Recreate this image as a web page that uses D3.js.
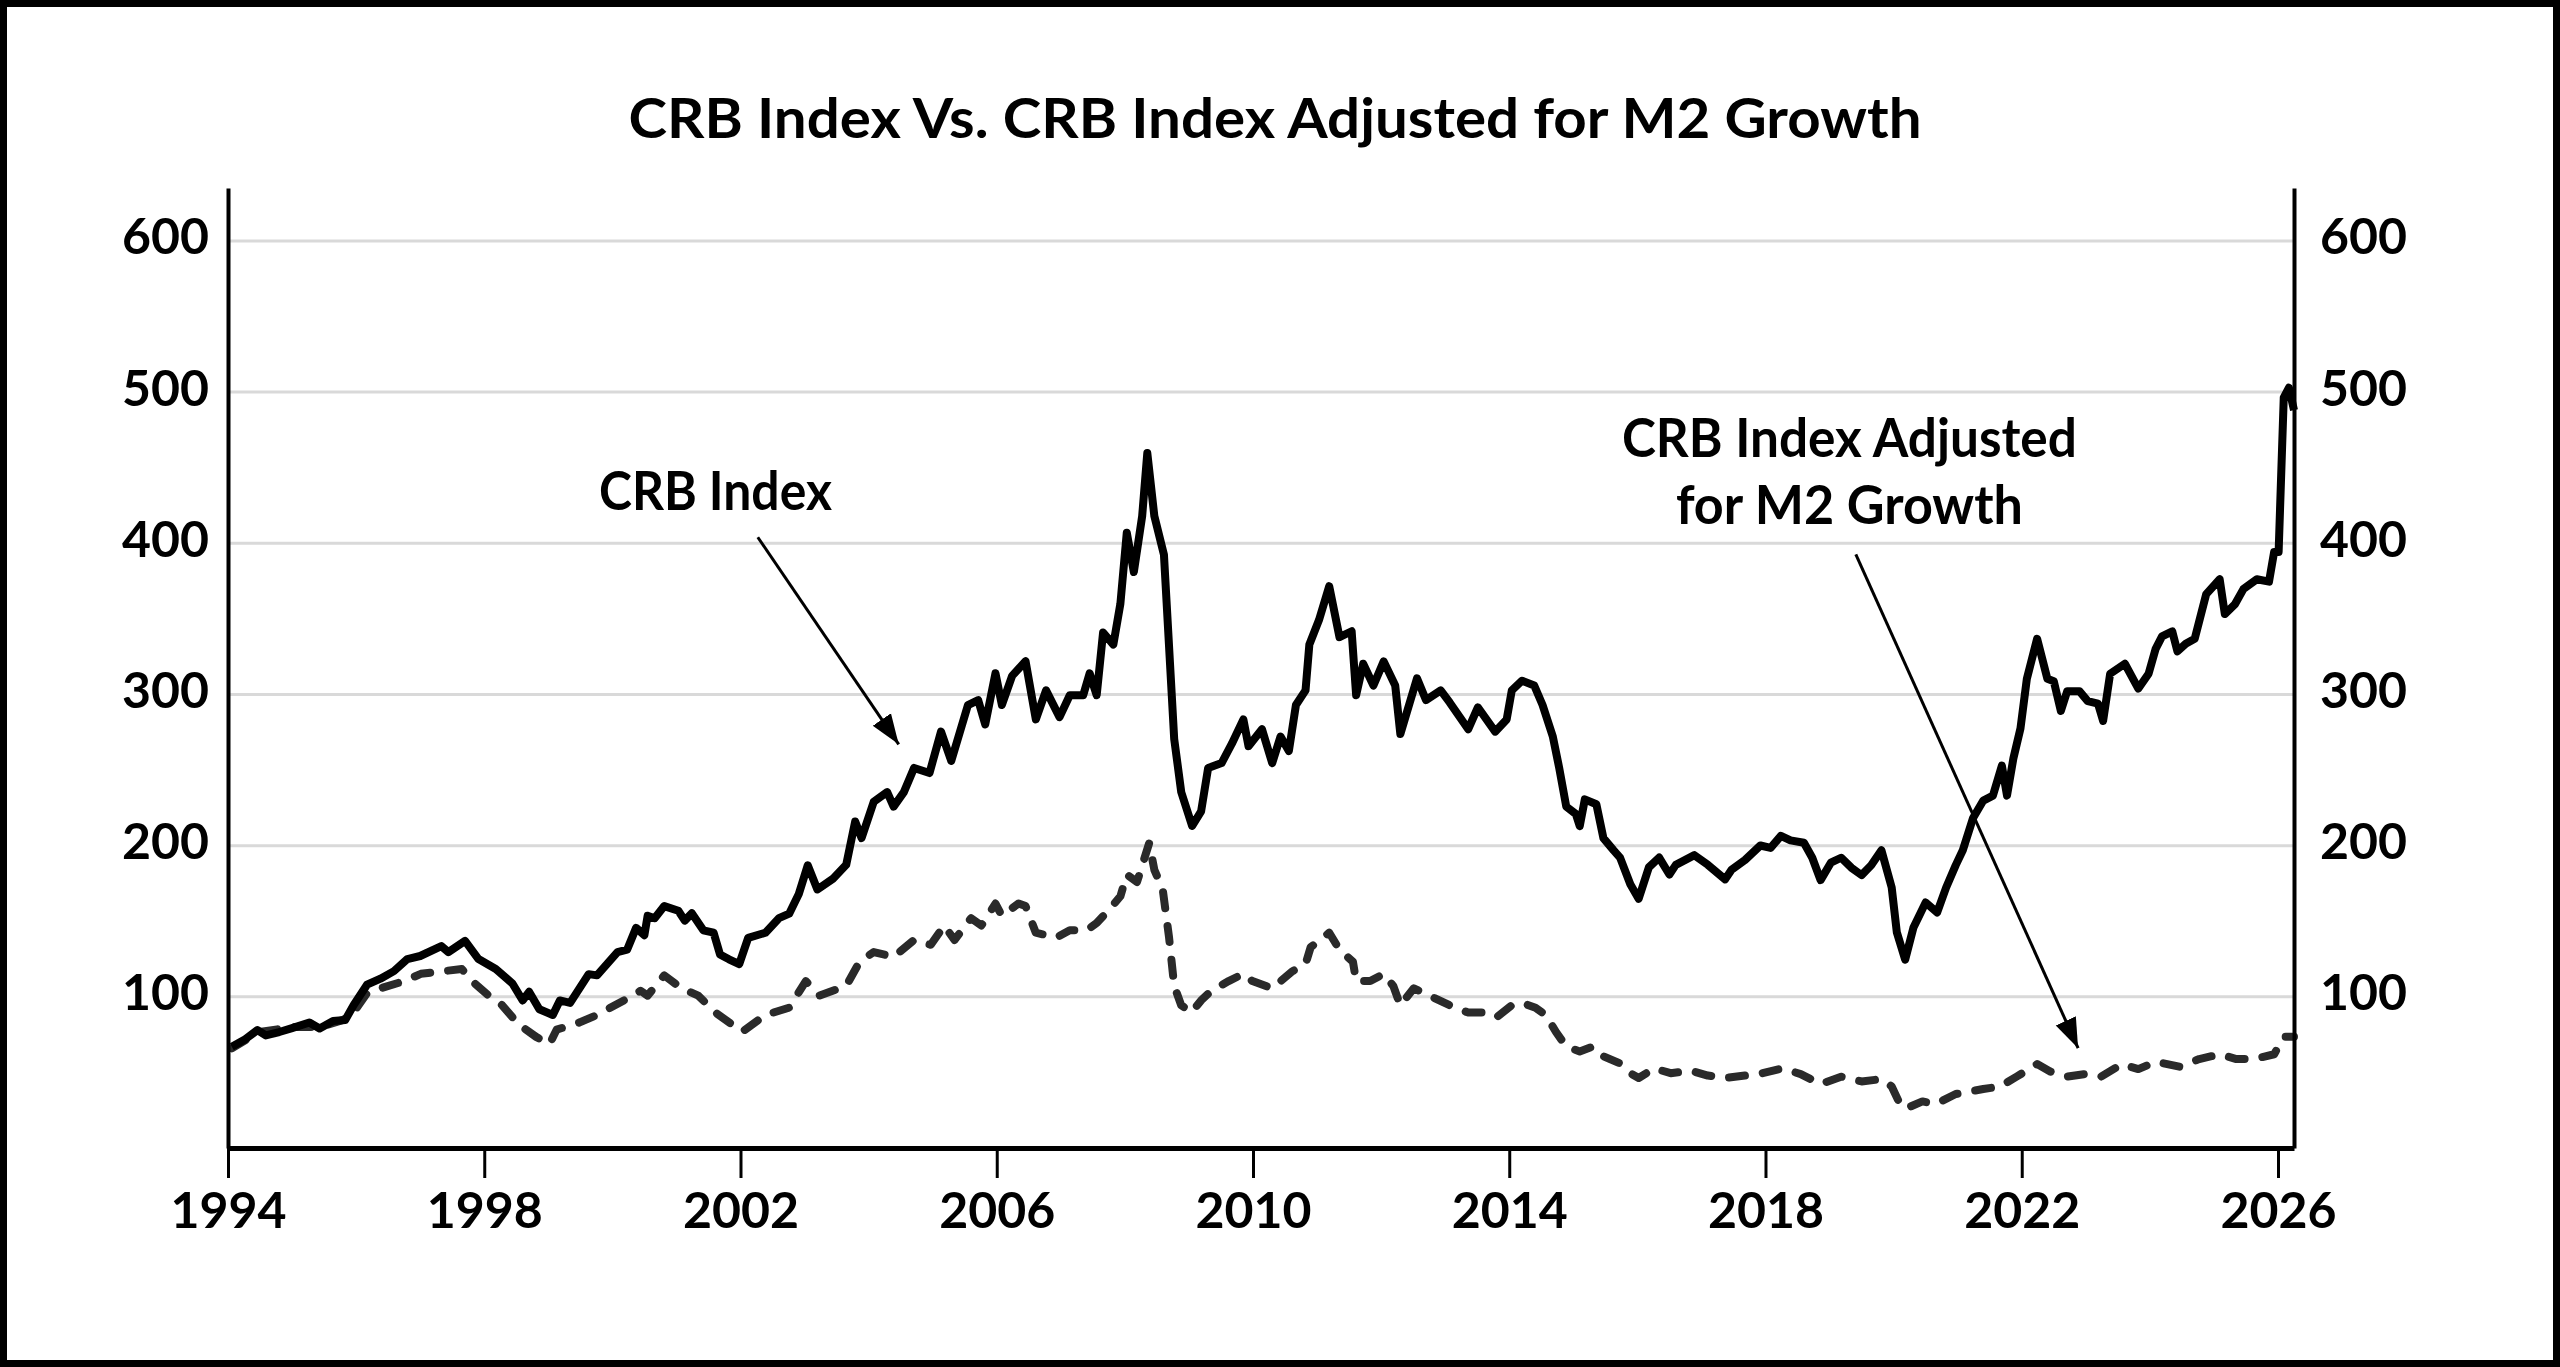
<!DOCTYPE html>
<html>
<head>
<meta charset="utf-8">
<title>CRB Index Vs. CRB Index Adjusted for M2 Growth</title>
<script src="https://cdn.jsdelivr.net/npm/d3@7"></script>
<style>
  html, body { margin: 0; padding: 0; background: #fff; overflow: hidden; }
  svg { display: block; font-family: Lato, "Open Sans", sans-serif; font-weight: 700; }
</style>
</head>
<body>
<svg id="chart"></svg>
<script>
// CRB Index (solid line)
const crbYears = [
  1994.06, 1994.27, 1994.46, 1994.59, 1994.8, 1995.0, 1995.27, 1995.43, 1995.64, 1995.83,
  1995.96, 1996.17, 1996.38, 1996.59, 1996.8, 1997.0, 1997.33, 1997.44, 1997.7, 1997.91,
  1998.18, 1998.44, 1998.6, 1998.7, 1998.86, 1999.07, 1999.18, 1999.34, 1999.63, 1999.76,
  2000.08, 2000.23, 2000.37, 2000.5, 2000.55, 2000.66, 2000.81, 2001.03, 2001.13, 2001.24,
  2001.42, 2001.58, 2001.68, 2001.82, 2001.98, 2002.12, 2002.39, 2002.6, 2002.76, 2002.91,
  2003.05, 2003.2, 2003.44, 2003.65, 2003.79, 2003.89, 2004.08, 2004.29, 2004.39, 2004.55,
  2004.71, 2004.95, 2005.13, 2005.29, 2005.55, 2005.71, 2005.82, 2005.98, 2006.08, 2006.24,
  2006.45, 2006.61, 2006.77, 2006.98, 2007.14, 2007.35, 2007.45, 2007.56, 2007.66, 2007.82,
  2007.93, 2008.03, 2008.14, 2008.27, 2008.35, 2008.46, 2008.61, 2008.69, 2008.77, 2008.88,
  2009.05, 2009.19, 2009.3, 2009.51, 2009.67, 2009.85, 2009.93, 2010.14, 2010.3, 2010.43,
  2010.56, 2010.67, 2010.82, 2010.88, 2011.03, 2011.19, 2011.35, 2011.54, 2011.61, 2011.72,
  2011.88, 2012.04, 2012.22, 2012.3, 2012.56, 2012.7, 2012.93, 2013.07, 2013.36, 2013.51,
  2013.78, 2013.96, 2014.04, 2014.2, 2014.39, 2014.52, 2014.68, 2014.78, 2014.89, 2015.04,
  2015.1, 2015.18, 2015.36, 2015.47, 2015.63, 2015.73, 2015.89, 2016.02, 2016.18, 2016.34,
  2016.5, 2016.6, 2016.89, 2017.1, 2017.37, 2017.47, 2017.68, 2017.92, 2018.08, 2018.24,
  2018.39, 2018.6, 2018.73, 2018.86, 2019.02, 2019.18, 2019.34, 2019.5, 2019.65, 2019.81,
  2019.97, 2020.05, 2020.18, 2020.31, 2020.5, 2020.68, 2020.82, 2020.97, 2021.08, 2021.24,
  2021.4, 2021.55, 2021.69, 2021.77, 2021.87, 2021.98, 2022.08, 2022.24, 2022.4, 2022.5,
  2022.61, 2022.71, 2022.9, 2023.03, 2023.19, 2023.27, 2023.38, 2023.61, 2023.82, 2023.98,
  2024.09, 2024.19, 2024.35, 2024.43, 2024.56, 2024.7, 2024.88, 2025.09, 2025.17, 2025.33,
  2025.46, 2025.67, 2025.86, 2025.94, 2026.01, 2026.09, 2026.17, 2026.25
];
const crbValues = [
  67, 72, 78, 74.5, 76.7, 79.3, 83, 79, 84, 84.7,
  94.4, 108, 112, 117, 125, 127, 133.5, 129.6, 137, 125,
  118.4, 108.8, 97.6, 103.3, 91.8, 88, 97.6, 96, 115, 114.2,
  129.6, 131.2, 145.6, 140.8, 153.6, 152, 160, 156.9, 150.4, 155.3,
  144, 142.4, 128, 124.8, 121.6, 139, 142.4, 152, 155, 168,
  187, 171, 178, 187.3, 216, 205, 229, 235.4, 225.8, 235.4,
  251.4, 248, 275.4, 256, 293, 296.3, 280.2, 314, 293, 312.3,
  322, 283.5, 302.7, 285, 299.5, 299.5, 314, 299.5, 341, 333,
  360, 407, 381, 418, 459.7, 418, 392.4, 331.5, 270.6, 235.4,
  213, 222.6, 251.4, 254.6, 267.4, 283.5, 265.8, 277, 254.6, 272.2,
  262.6, 293, 302.7, 333.1, 349.2, 371.6, 337.9, 341.8, 299.5, 320.3,
  305.9, 321.9, 305.9, 273.8, 310.7, 296.3, 302.7, 294.7, 277, 291.5,
  275.4, 283.5, 302.7, 309.1, 305.9, 293, 272.2, 251.4, 225.8, 220.9,
  212.9, 230.6, 227.4, 205, 196.9, 192.1, 174.5, 164.9, 185.7, 192.1,
  180.9, 187.3, 193.7, 187.3, 177.7, 184.1, 190.5, 200.1, 198.5, 206.5,
  203.5, 201.9, 192, 177.2, 188.7, 192, 185.4, 180.5, 187, 196.9,
  172.3, 142.7, 124.6, 145.9, 162.4, 155.8, 172.3, 187.1, 196.9, 218.3,
  229.8, 233.1, 252.9, 233.1, 257.8, 277.5, 310.4, 336.8, 310.4, 308.8,
  289.1, 302.2, 302.2, 295.6, 294, 282.5, 313.7, 320.3, 303.9, 313.7,
  330.2, 338.4, 341.7, 328.5, 333.5, 336.8, 366.4, 376.2, 353.2, 359.8,
  369.7, 376.2, 374.6, 394.3, 394.3, 496.3, 502.9, 488
];

// CRB Index adjusted for M2 growth (dashed line)
const adjYears = [
  1994.06, 1994.48, 1995.01, 1995.43, 1995.8, 1996.01, 1996.17, 1996.38, 1996.75, 1997.01,
  1997.33, 1997.65, 1997.81, 1998.07, 1998.28, 1998.54, 1998.81, 1999.02, 1999.13, 1999.49,
  1999.76, 2000.18, 2000.44, 2000.55, 2000.81, 2001.08, 2001.34, 2001.61, 2001.87, 2002.03,
  2002.39, 2002.76, 2003.02, 2003.23, 2003.65, 2003.86, 2004.08, 2004.39, 2004.71, 2004.97,
  2005.18, 2005.34, 2005.6, 2005.76, 2005.98, 2006.08, 2006.34, 2006.45, 2006.61, 2006.93,
  2007.14, 2007.4, 2007.56, 2007.77, 2007.93, 2008.03, 2008.19, 2008.38, 2008.46, 2008.59,
  2008.69, 2008.77, 2008.88, 2009.04, 2009.19, 2009.35, 2009.62, 2009.85, 2009.99, 2010.3,
  2010.61, 2010.82, 2010.9, 2011.19, 2011.35, 2011.56, 2011.61, 2011.83, 2012.04, 2012.19,
  2012.3, 2012.51, 2012.83, 2013.15, 2013.36, 2013.62, 2013.8, 2014.04, 2014.2, 2014.41,
  2014.57, 2014.73, 2014.89, 2015.1, 2015.31, 2015.47, 2015.73, 2015.89, 2016.02, 2016.26,
  2016.52, 2016.84, 2017.1, 2017.37, 2017.68, 2017.95, 2018.26, 2018.55, 2018.86, 2019.18,
  2019.5, 2019.81, 2019.97, 2020.08, 2020.18, 2020.45, 2020.66, 2020.97, 2021.4, 2021.66,
  2021.92, 2022.24, 2022.45, 2022.71, 2022.98, 2023.24, 2023.56, 2023.82, 2024.09, 2024.46,
  2024.77, 2025.09, 2025.35, 2025.62, 2025.94, 2026.09, 2026.25
];
const adjValues = [
  66, 76.7, 80, 80, 84.7, 92.8, 102.4, 105.6, 110.4, 115.2,
  116.8, 118.4, 110.4, 100.8, 94.4, 81.6, 73.5, 68.7, 78.3, 83.1,
  88, 97.6, 104, 100.8, 114.2, 105.6, 100.8, 89.6, 81.6, 77,
  88, 92.8, 110.4, 100.8, 107.2, 123.2, 129.6, 126.4, 137.6, 134.4,
  147.2, 137.6, 152, 147.2, 161.7, 153.6, 161.7, 160, 142.4, 139.2,
  144, 144, 148.8, 158.4, 166.5, 180.9, 176, 201.7, 184, 171.3,
  139.2, 107.2, 94.4, 89.6, 97.6, 104, 110.4, 115.2, 110.4, 105.6,
  116.8, 121.6, 132.8, 142.4, 131.2, 123.2, 110.4, 110.4, 115.2, 107.2,
  94.4, 105.6, 99.2, 92.8, 89.6, 89.6, 86.4, 94.4, 96, 92.8,
  88, 76.7, 67.1, 63.9, 67.1, 60.7, 55.9, 49.5, 46.3, 52.7,
  49.5, 51.1, 47.9, 46.3, 47.9, 49.5, 52.7, 48.9, 42.3, 47.2,
  44, 45.6, 40.7, 30.8, 25.9, 30.8, 29.1, 35.7, 39, 40.7,
  47.2, 55.5, 50.5, 47.2, 48.9, 47.2, 55.5, 52.2, 57.1, 53.8,
  58.8, 62, 58.8, 58.8, 62, 73.6, 73.6
];

const yTicks = [100, 200, 300, 400, 500, 600];
const xTicks = [1994, 1998, 2002, 2006, 2010, 2014, 2018, 2022, 2026];

const titleText = "CRB Index Vs. CRB Index Adjusted for M2 Growth";

// annotation labels, placed in data units (year, value)
const labelNotes = [
  { lines: ["CRB Index"], year: 1999.79, value: 421.8, anchor: "start", widths: [233] },
  { lines: ["CRB Index Adjusted", "for M2 Growth"], year: 2019.31, value: 456.9, anchor: "middle", widths: [455, 347] }
];
const arrowNotes = [
  { from: [2002.27, 404], to: [2004.47, 267] },
  { from: [2019.41, 392.7], to: [2022.88, 66] }
];

class CrbChart {
  constructor(_config) {
    this.config = {
      parentElement: _config.parentElement,
      containerWidth: _config.containerWidth || 2560,
      containerHeight: _config.containerHeight || 1367,
      margin: _config.margin || { top: 188, right: 266, bottom: 219, left: 228 },
    };
    this.initVis();
  }

  initVis() {
    let vis = this;
    const m = vis.config.margin;
    vis.width = vis.config.containerWidth - m.left - m.right;
    vis.height = vis.config.containerHeight - m.top - m.bottom;

    vis.svg = d3
      .select(vis.config.parentElement)
      .attr("width", vis.config.containerWidth)
      .attr("height", vis.config.containerHeight);

    // white page with black frame
    vis.svg
      .append("rect")
      .attr("x", 3.5)
      .attr("y", 3.5)
      .attr("width", vis.config.containerWidth - 7)
      .attr("height", vis.config.containerHeight - 7)
      .attr("fill", "#fff")
      .attr("stroke", "#000")
      .attr("stroke-width", 7);

    vis.xScale = d3
      .scaleLinear()
      .domain([1994, 2026.25])
      .range([m.left, m.left + vis.width]);
    vis.yScale = d3
      .scaleLinear()
      .domain([0, 635])
      .range([m.top + vis.height, m.top]);

    vis.svg
      .append("text")
      .attr("x", 1275)
      .attr("y", 138)
      .attr("text-anchor", "middle")
      .attr("font-size", 56)
      .attr("textLength", 1293)
      .attr("lengthAdjust", "spacingAndGlyphs")
      .text(titleText);

    vis.renderVis();
  }

  renderVis() {
    let vis = this;
    const x = vis.xScale;
    const y = vis.yScale;
    const [x0, x1] = x.range();

    // gridlines
    vis.svg
      .append("g")
      .selectAll("line")
      .data(yTicks)
      .join("line")
      .attr("x1", x0)
      .attr("x2", x1)
      .attr("y1", (d) => y(d))
      .attr("y2", (d) => y(d))
      .attr("stroke", "#d9d9d9")
      .attr("stroke-width", 3);

    const line = d3
      .line()
      .x((d) => x(d[0]))
      .y((d) => y(d[1]));

    vis.svg
      .append("path")
      .datum(d3.zip(adjYears, adjValues))
      .attr("d", line)
      .attr("fill", "none")
      .attr("stroke", "#2a2a2a")
      .attr("stroke-width", 8)
      .attr("stroke-linecap", "round")
      .attr("stroke-linejoin", "round")
      .attr("stroke-dasharray", "16 18");

    vis.svg
      .append("path")
      .datum(d3.zip(crbYears, crbValues))
      .attr("d", line)
      .attr("fill", "none")
      .attr("stroke", "#000")
      .attr("stroke-width", 8)
      .attr("stroke-linejoin", "round");

    // axes
    const styleAxis = (g, lineWidth) => {
      g.attr("font-family", null).attr("font-size", null);
      g.select(".domain").attr("stroke", "#000").attr("stroke-width", lineWidth);
      g.selectAll(".tick line").attr("stroke", "#000").attr("stroke-width", 3);
      g.selectAll(".tick text").attr("fill", "#000").attr("font-size", 50);
    };

    vis.svg
      .append("g")
      .attr("transform", `translate(${x0},0)`)
      .call(d3.axisLeft(y).tickValues(yTicks).tickSize(0).tickPadding(19))
      .call((g) => styleAxis(g, 4))
      .call((g) => g.selectAll(".tick text").attr("dy", "0.26em"));

    vis.svg
      .append("g")
      .attr("transform", `translate(${x1},0)`)
      .call(d3.axisRight(y).tickValues(yTicks).tickSize(0).tickPadding(26))
      .call((g) => styleAxis(g, 4))
      .call((g) => g.selectAll(".tick text").attr("dy", "0.26em"));

    vis.svg
      .append("g")
      .attr("transform", `translate(0,${y(0)})`)
      .call(
        d3
          .axisBottom(x)
          .tickValues(xTicks)
          .tickFormat(d3.format("d"))
          .tickSize(30)
          .tickSizeOuter(0)
          .tickPadding(14)
      )
      .call((g) => styleAxis(g, 5));

    // annotations
    const defs = vis.svg.append("defs");
    defs
      .append("marker")
      .attr("id", "arrowhead")
      .attr("markerUnits", "userSpaceOnUse")
      .attr("viewBox", "0 -12 30 24")
      .attr("markerWidth", 30)
      .attr("markerHeight", 24)
      .attr("refX", 30)
      .attr("refY", 0)
      .attr("orient", "auto")
      .append("path")
      .attr("d", "M0,-11L30,0L0,11Z")
      .attr("fill", "#000");

    vis.svg
      .append("g")
      .selectAll("line")
      .data(arrowNotes)
      .join("line")
      .attr("x1", (d) => x(d.from[0]))
      .attr("y1", (d) => y(d.from[1]))
      .attr("x2", (d) => x(d.to[0]))
      .attr("y2", (d) => y(d.to[1]))
      .attr("stroke", "#000")
      .attr("stroke-width", 3)
      .attr("marker-end", "url(#arrowhead)");

    const notes = vis.svg
      .append("g")
      .selectAll("text")
      .data(labelNotes)
      .join("text")
      .attr("font-size", 53)
      .attr("text-anchor", (d) => d.anchor)
      .attr("y", (d) => y(d.value));

    notes
      .selectAll("tspan")
      .data((d) => d.lines.map((t, i) => ({ t, i, d })))
      .join("tspan")
      .attr("x", (e) => x(e.d.year))
      .attr("dy", (e) => (e.i === 0 ? 0 : 67))
      .attr("textLength", (e) => e.d.widths[e.i])
      .attr("lengthAdjust", "spacingAndGlyphs")
      .text((e) => e.t);
  }
}

new CrbChart({ parentElement: "#chart" });
</script>
</body>
</html>
